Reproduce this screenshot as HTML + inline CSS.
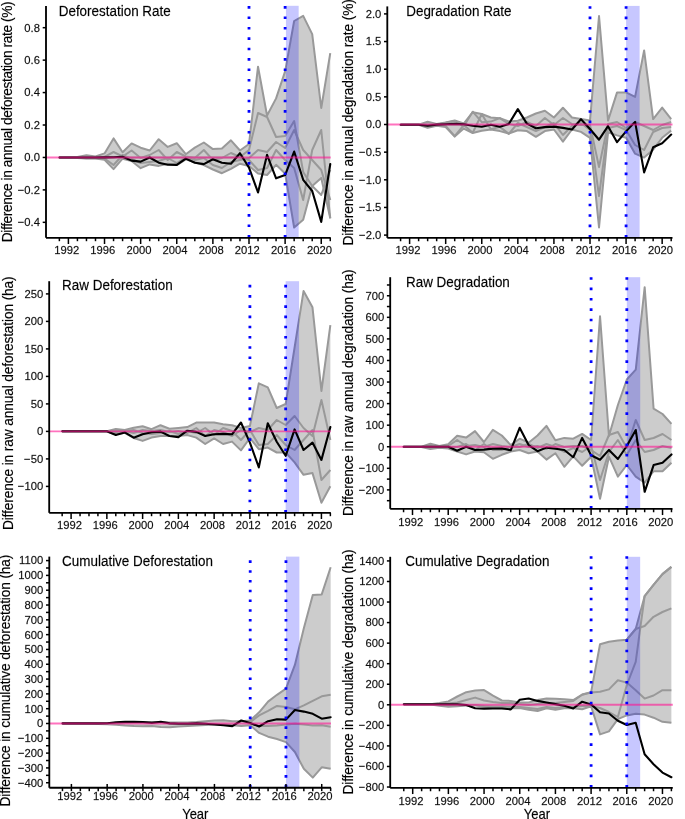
<!DOCTYPE html>
<html><head><meta charset="utf-8"><style>
html,body{margin:0;padding:0;background:#fff;width:685px;height:819px;overflow:hidden}
svg{display:block;font-family:"Liberation Sans", sans-serif;will-change:transform}
</style></head><body>
<svg width="685" height="819" viewBox="0 0 685 819" font-family='"Liberation Sans", sans-serif'>
<style>text{stroke:#000;stroke-width:0.25px;stroke-opacity:0.6}</style>
<rect width="685" height="819" fill="#fff"/>
<clipPath id="cP1"><rect x="46" y="5" width="286.7" height="232.8"/></clipPath>
<g clip-path="url(#cP1)">
<polygon points="59.37,157.5 68.4,157.3 77.43,157 86.46,155.3 95.49,156.5 104.52,153.4 113.55,138.4 122.58,152.2 131.61,143.4 140.64,147.7 149.67,150.5 158.7,139.2 167.73,146.9 176.76,143.2 185.79,154.2 194.82,147.6 203.85,142.5 212.88,149.1 221.91,148.4 230.94,140.3 239.97,150.5 249,144 258.03,66.7 267.06,115.5 276.09,98.4 285.12,71.4 294.15,21 303.18,15.9 312.21,34.1 321.24,108 330.27,53.2 330.27,218.3 321.24,178 312.21,186 303.18,219.8 294.15,227.5 285.12,173.5 276.09,164.8 267.06,175 258.03,173.5 249,166 239.97,163.7 230.94,168.8 221.91,173.2 212.88,169.5 203.85,165.1 194.82,162.2 185.79,159.3 176.76,165.1 167.73,163.7 158.7,165.9 149.67,164.4 140.64,168.2 131.61,161 122.58,158.7 113.55,169.1 104.52,159.8 95.49,158.5 86.46,158.5 77.43,158 68.4,158 59.37,157.7" fill="#cccccc" stroke="none"/>
<polyline points="59.37,157.5 68.4,157.3 77.43,157 86.46,155.3 95.49,156.5 104.52,153.4 113.55,138.4 122.58,152.2 131.61,143.4 140.64,147.7 149.67,150.5 158.7,139.2 167.73,146.9 176.76,143.2 185.79,154.2 194.82,147.6 203.85,142.5 212.88,149.1 221.91,148.4 230.94,140.3 239.97,150.5 249,144 258.03,66.7 267.06,115.5 276.09,98.4 285.12,71.4 294.15,21 303.18,15.9 312.21,34.1 321.24,108 330.27,53.2" fill="none" stroke="#999999" stroke-width="2.0" stroke-linejoin="round"/>
<polyline points="59.37,157.7 68.4,158 77.43,158 86.46,158.5 95.49,158.5 104.52,159.8 113.55,169.1 122.58,158.7 131.61,161 140.64,168.2 149.67,164.4 158.7,165.9 167.73,163.7 176.76,165.1 185.79,159.3 194.82,162.2 203.85,165.1 212.88,169.5 221.91,173.2 230.94,168.8 239.97,163.7 249,166 258.03,173.5 267.06,175 276.09,164.8 285.12,173.5 294.15,227.5 303.18,219.8 312.21,186 321.24,178 330.27,218.3" fill="none" stroke="#999999" stroke-width="2.0" stroke-linejoin="round"/>
<polyline points="59.37,157.5 68.4,157.5 77.43,157.5 86.46,157.3 95.49,157.6 104.52,156.8 113.55,152 122.58,156.5 131.61,150.5 140.64,158 149.67,155 158.7,150 167.73,160 176.76,152 185.79,156.5 194.82,158 203.85,150 212.88,160 221.91,158 230.94,153 239.97,157 249,150 258.03,113 267.06,117 276.09,137 285.12,136 294.15,121 303.18,172 312.21,186 321.24,195 330.27,170" fill="none" stroke="#999999" stroke-width="2.0" stroke-linejoin="round"/>
<polyline points="59.37,157.5 68.4,157.6 77.43,157.8 86.46,158.2 95.49,158 104.52,158.5 113.55,165 122.58,155 131.61,158.8 140.64,163 149.67,162 158.7,161 167.73,158 176.76,163 185.79,157.5 194.82,160 203.85,158 212.88,165 221.91,168 230.94,162 239.97,160 249,158 258.03,150 267.06,152 276.09,142 285.12,148 294.15,130 303.18,150 312.21,160 321.24,170 330.27,200" fill="none" stroke="#999999" stroke-width="2.0" stroke-linejoin="round"/>
<polyline points="59.37,157.6 68.4,157.6 77.43,157.6 86.46,157.6 95.49,157.6 104.52,157.6 113.55,157.6 122.58,157.6 131.61,157.6 140.64,157.6 149.67,157.6 158.7,157.6 167.73,157.6 176.76,157.6 185.79,157.6 194.82,157.6 203.85,157.6 212.88,157.6 221.91,157.6 230.94,157.6 239.97,157.6 249,160 258.03,170 267.06,168 276.09,150 285.12,160 294.15,168 303.18,200 312.21,150 321.24,130 330.27,218.3" fill="none" stroke="#999999" stroke-width="2.0" stroke-linejoin="round"/>
<rect x="285.92" y="5.8" width="12.74" height="232" fill="rgb(0,0,255)" fill-opacity="0.22"/>
<polyline points="59.37,157.5 68.4,157.5 77.43,157.5 86.46,157.5 95.49,157.5 104.52,157.4 113.55,157.3 122.58,156.8 131.61,160.6 140.64,161.6 149.67,157.5 158.7,162.7 167.73,164.7 176.76,164.9 185.79,158.6 194.82,162.7 203.85,164.1 212.88,159.3 221.91,162.7 230.94,163.7 239.97,153.2 249,167.6 258.03,192.5 267.06,154.8 276.09,178.3 285.12,175.1 294.15,151.6 303.18,179.8 312.21,191 321.24,221.9 330.27,164" fill="none" stroke="#000" stroke-width="2.1" stroke-linejoin="round" stroke-linecap="round"/>
<line x1="46" x2="330.7" y1="157.45" y2="157.45" stroke="rgb(255,20,147)" stroke-opacity="0.6" stroke-width="1.9"/>
<line x1="249" x2="249" y1="237.5" y2="5" stroke="#0000ff" stroke-width="2.8" stroke-dasharray="2.6 7.8"/>
<line x1="285.12" x2="285.12" y1="237.5" y2="5" stroke="#0000ff" stroke-width="2.8" stroke-dasharray="2.6 7.8"/>
</g>
<line x1="46" x2="46" y1="6" y2="237.8" stroke="#000" stroke-width="1.85"/>
<line x1="46" x2="330.7" y1="237.8" y2="237.8" stroke="#000" stroke-width="1.85"/>
<line x1="42.7" x2="46" y1="27.69" y2="27.69" stroke="#000" stroke-width="1.5"/>
<text transform="translate(40 31.59) scale(1 1.04)" text-anchor="end" font-size="11.25" fill="#111">0.8</text>
<line x1="42.7" x2="46" y1="60.13" y2="60.13" stroke="#000" stroke-width="1.5"/>
<text transform="translate(40 64.03) scale(1 1.04)" text-anchor="end" font-size="11.25" fill="#111">0.6</text>
<line x1="42.7" x2="46" y1="92.57" y2="92.57" stroke="#000" stroke-width="1.5"/>
<text transform="translate(40 96.47) scale(1 1.04)" text-anchor="end" font-size="11.25" fill="#111">0.4</text>
<line x1="42.7" x2="46" y1="125.01" y2="125.01" stroke="#000" stroke-width="1.5"/>
<text transform="translate(40 128.91) scale(1 1.04)" text-anchor="end" font-size="11.25" fill="#111">0.2</text>
<line x1="42.7" x2="46" y1="157.45" y2="157.45" stroke="#000" stroke-width="1.5"/>
<text transform="translate(40 161.35) scale(1 1.04)" text-anchor="end" font-size="11.25" fill="#111">0.0</text>
<line x1="42.7" x2="46" y1="189.89" y2="189.89" stroke="#000" stroke-width="1.5"/>
<text transform="translate(40 193.79) scale(1 1.04)" text-anchor="end" font-size="11.25" fill="#111">−0.2</text>
<line x1="42.7" x2="46" y1="222.33" y2="222.33" stroke="#000" stroke-width="1.5"/>
<text transform="translate(40 226.23) scale(1 1.04)" text-anchor="end" font-size="11.25" fill="#111">−0.4</text>
<line x1="59.37" x2="59.37" y1="237.8" y2="241.2" stroke="#000" stroke-width="1.5"/>
<line x1="68.4" x2="68.4" y1="237.8" y2="244" stroke="#000" stroke-width="1.5"/>
<text transform="translate(66.7 254.2) scale(1 1.04)" text-anchor="middle" font-size="11.25" fill="#111">1992</text>
<line x1="77.43" x2="77.43" y1="237.8" y2="241.2" stroke="#000" stroke-width="1.5"/>
<line x1="86.46" x2="86.46" y1="237.8" y2="241.2" stroke="#000" stroke-width="1.5"/>
<line x1="95.49" x2="95.49" y1="237.8" y2="241.2" stroke="#000" stroke-width="1.5"/>
<line x1="104.52" x2="104.52" y1="237.8" y2="244" stroke="#000" stroke-width="1.5"/>
<text transform="translate(102.82 254.2) scale(1 1.04)" text-anchor="middle" font-size="11.25" fill="#111">1996</text>
<line x1="113.55" x2="113.55" y1="237.8" y2="241.2" stroke="#000" stroke-width="1.5"/>
<line x1="122.58" x2="122.58" y1="237.8" y2="241.2" stroke="#000" stroke-width="1.5"/>
<line x1="131.61" x2="131.61" y1="237.8" y2="241.2" stroke="#000" stroke-width="1.5"/>
<line x1="140.64" x2="140.64" y1="237.8" y2="244" stroke="#000" stroke-width="1.5"/>
<text transform="translate(138.94 254.2) scale(1 1.04)" text-anchor="middle" font-size="11.25" fill="#111">2000</text>
<line x1="149.67" x2="149.67" y1="237.8" y2="241.2" stroke="#000" stroke-width="1.5"/>
<line x1="158.7" x2="158.7" y1="237.8" y2="241.2" stroke="#000" stroke-width="1.5"/>
<line x1="167.73" x2="167.73" y1="237.8" y2="241.2" stroke="#000" stroke-width="1.5"/>
<line x1="176.76" x2="176.76" y1="237.8" y2="244" stroke="#000" stroke-width="1.5"/>
<text transform="translate(175.06 254.2) scale(1 1.04)" text-anchor="middle" font-size="11.25" fill="#111">2004</text>
<line x1="185.79" x2="185.79" y1="237.8" y2="241.2" stroke="#000" stroke-width="1.5"/>
<line x1="194.82" x2="194.82" y1="237.8" y2="241.2" stroke="#000" stroke-width="1.5"/>
<line x1="203.85" x2="203.85" y1="237.8" y2="241.2" stroke="#000" stroke-width="1.5"/>
<line x1="212.88" x2="212.88" y1="237.8" y2="244" stroke="#000" stroke-width="1.5"/>
<text transform="translate(211.18 254.2) scale(1 1.04)" text-anchor="middle" font-size="11.25" fill="#111">2008</text>
<line x1="221.91" x2="221.91" y1="237.8" y2="241.2" stroke="#000" stroke-width="1.5"/>
<line x1="230.94" x2="230.94" y1="237.8" y2="241.2" stroke="#000" stroke-width="1.5"/>
<line x1="239.97" x2="239.97" y1="237.8" y2="241.2" stroke="#000" stroke-width="1.5"/>
<line x1="249" x2="249" y1="237.8" y2="244" stroke="#000" stroke-width="1.5"/>
<text transform="translate(247.3 254.2) scale(1 1.04)" text-anchor="middle" font-size="11.25" fill="#111">2012</text>
<line x1="258.03" x2="258.03" y1="237.8" y2="241.2" stroke="#000" stroke-width="1.5"/>
<line x1="267.06" x2="267.06" y1="237.8" y2="241.2" stroke="#000" stroke-width="1.5"/>
<line x1="276.09" x2="276.09" y1="237.8" y2="241.2" stroke="#000" stroke-width="1.5"/>
<line x1="285.12" x2="285.12" y1="237.8" y2="244" stroke="#000" stroke-width="1.5"/>
<text transform="translate(283.42 254.2) scale(1 1.04)" text-anchor="middle" font-size="11.25" fill="#111">2016</text>
<line x1="294.15" x2="294.15" y1="237.8" y2="241.2" stroke="#000" stroke-width="1.5"/>
<line x1="303.18" x2="303.18" y1="237.8" y2="241.2" stroke="#000" stroke-width="1.5"/>
<line x1="312.21" x2="312.21" y1="237.8" y2="241.2" stroke="#000" stroke-width="1.5"/>
<line x1="321.24" x2="321.24" y1="237.8" y2="244" stroke="#000" stroke-width="1.5"/>
<text transform="translate(319.54 254.2) scale(1 1.04)" text-anchor="middle" font-size="11.25" fill="#111">2020</text>
<line x1="330.27" x2="330.27" y1="237.8" y2="241.2" stroke="#000" stroke-width="1.5"/>
<text transform="translate(58.7 15.9) scale(1 1.1)" font-size="13.45" fill="#000">Deforestation Rate</text>
<text transform="translate(12 121.8) rotate(-90) scale(1 1.06)" text-anchor="middle" font-size="13.7" textLength="240.8" lengthAdjust="spacing" fill="#000">Difference in annual deforestation rate (%)</text>
<clipPath id="cP2"><rect x="387.3" y="5.4" width="287.2" height="232.45"/></clipPath>
<g clip-path="url(#cP2)">
<polygon points="400.58,124.6 409.6,124.6 418.62,124.6 427.64,121.7 436.66,123.9 445.68,122.4 454.7,120.5 463.72,123.5 472.74,112.2 481.76,114 490.78,117.5 499.8,118.3 508.82,121.5 517.84,120.7 526.86,117.5 535.88,113.5 544.9,110.7 553.92,117.5 562.94,107.8 571.96,117.5 580.98,119.1 590,120.6 599.02,16 608.04,120.6 617.06,92.4 626.08,92.4 635.1,96.9 644.12,50.4 653.14,119.1 662.16,107.6 671.18,119.1 671.18,130.6 662.16,137.8 653.14,149.7 644.12,157.6 635.1,153.7 626.08,137.8 617.06,135.4 608.04,132.2 599.02,227.5 590,137.8 580.98,131.9 571.96,129.5 562.94,141.6 553.92,129.5 544.9,131.1 535.88,136.8 526.86,131.1 517.84,130.3 508.82,133.5 499.8,131.1 490.78,129.5 481.76,130.8 472.74,133 463.72,128.6 454.7,136.6 445.68,127.1 436.66,125.7 427.64,127.8 418.62,124.8 409.6,124.8 400.58,124.8" fill="#cccccc" stroke="none"/>
<polyline points="400.58,124.6 409.6,124.6 418.62,124.6 427.64,121.7 436.66,123.9 445.68,122.4 454.7,120.5 463.72,123.5 472.74,112.2 481.76,114 490.78,117.5 499.8,118.3 508.82,121.5 517.84,120.7 526.86,117.5 535.88,113.5 544.9,110.7 553.92,117.5 562.94,107.8 571.96,117.5 580.98,119.1 590,120.6 599.02,16 608.04,120.6 617.06,92.4 626.08,92.4 635.1,96.9 644.12,50.4 653.14,119.1 662.16,107.6 671.18,119.1" fill="none" stroke="#999999" stroke-width="2.0" stroke-linejoin="round"/>
<polyline points="400.58,124.8 409.6,124.8 418.62,124.8 427.64,127.8 436.66,125.7 445.68,127.1 454.7,136.6 463.72,128.6 472.74,133 481.76,130.8 490.78,129.5 499.8,131.1 508.82,133.5 517.84,130.3 526.86,131.1 535.88,136.8 544.9,131.1 553.92,129.5 562.94,141.6 571.96,129.5 580.98,131.9 590,137.8 599.02,227.5 608.04,132.2 617.06,135.4 626.08,137.8 635.1,153.7 644.12,157.6 653.14,149.7 662.16,137.8 671.18,130.6" fill="none" stroke="#999999" stroke-width="2.0" stroke-linejoin="round"/>
<polyline points="400.58,124.7 409.6,124.7 418.62,124.7 427.64,124.5 436.66,124.8 445.68,122.8 454.7,121 463.72,126.3 472.74,111.7 481.76,122.2 490.78,121.6 499.8,118.1 508.82,123.9 517.84,126 526.86,122 535.88,126 544.9,118 553.92,125 562.94,118 571.96,124 580.98,125 590,125 599.02,167 608.04,124 617.06,122 626.08,128 635.1,122 644.12,126 653.14,130 662.16,125 671.18,122" fill="none" stroke="#999999" stroke-width="2.0" stroke-linejoin="round"/>
<polyline points="400.58,124.8 409.6,124.8 418.62,124.8 427.64,126 436.66,125 445.68,126 454.7,136.2 463.72,125.1 472.74,132.7 481.76,114 490.78,129.2 499.8,126.9 508.82,133.9 517.84,123 526.86,127 535.88,131 544.9,127 553.92,123 562.94,135 571.96,126 580.98,123 590,130 599.02,196 608.04,128 617.06,126 626.08,130 635.1,145 644.12,150 653.14,132 662.16,128 671.18,127" fill="none" stroke="#999999" stroke-width="2.0" stroke-linejoin="round"/>
<rect x="626.08" y="5.8" width="13.53" height="232.05" fill="rgb(0,0,255)" fill-opacity="0.22"/>
<polyline points="400.58,124.7 409.6,124.7 418.62,124.7 427.64,125.7 436.66,124.6 445.68,124.2 454.7,123.9 463.72,124.2 472.74,125.7 481.76,126.8 490.78,124.7 499.8,126.8 508.82,123.9 517.84,109.1 526.86,123.6 535.88,128.2 544.9,127.1 553.92,126.6 562.94,127.9 571.96,129.5 580.98,119.2 590,129 599.02,139.7 608.04,126.2 617.06,142.2 626.08,131.4 635.1,121.9 644.12,172.4 653.14,147.3 662.16,143.3 671.18,134.6" fill="none" stroke="#000" stroke-width="2.1" stroke-linejoin="round" stroke-linecap="round"/>
<line x1="387.3" x2="672.5" y1="124.5" y2="124.5" stroke="rgb(255,20,147)" stroke-opacity="0.6" stroke-width="1.9"/>
<line x1="590" x2="590" y1="237.55" y2="5.4" stroke="#0000ff" stroke-width="2.8" stroke-dasharray="2.6 7.8"/>
<line x1="626.08" x2="626.08" y1="237.55" y2="5.4" stroke="#0000ff" stroke-width="2.8" stroke-dasharray="2.6 7.8"/>
</g>
<line x1="387.3" x2="387.3" y1="6.4" y2="237.85" stroke="#000" stroke-width="1.85"/>
<line x1="387.3" x2="672.5" y1="237.85" y2="237.85" stroke="#000" stroke-width="1.85"/>
<line x1="384" x2="387.3" y1="13.9" y2="13.9" stroke="#000" stroke-width="1.5"/>
<text transform="translate(381.3 17.8) scale(1 1.04)" text-anchor="end" font-size="11.25" fill="#111">2.0</text>
<line x1="384" x2="387.3" y1="41.55" y2="41.55" stroke="#000" stroke-width="1.5"/>
<text transform="translate(381.3 45.45) scale(1 1.04)" text-anchor="end" font-size="11.25" fill="#111">1.5</text>
<line x1="384" x2="387.3" y1="69.2" y2="69.2" stroke="#000" stroke-width="1.5"/>
<text transform="translate(381.3 73.1) scale(1 1.04)" text-anchor="end" font-size="11.25" fill="#111">1.0</text>
<line x1="384" x2="387.3" y1="96.85" y2="96.85" stroke="#000" stroke-width="1.5"/>
<text transform="translate(381.3 100.75) scale(1 1.04)" text-anchor="end" font-size="11.25" fill="#111">0.5</text>
<line x1="384" x2="387.3" y1="124.5" y2="124.5" stroke="#000" stroke-width="1.5"/>
<text transform="translate(381.3 128.4) scale(1 1.04)" text-anchor="end" font-size="11.25" fill="#111">0.0</text>
<line x1="384" x2="387.3" y1="152.15" y2="152.15" stroke="#000" stroke-width="1.5"/>
<text transform="translate(381.3 156.05) scale(1 1.04)" text-anchor="end" font-size="11.25" fill="#111">−0.5</text>
<line x1="384" x2="387.3" y1="179.8" y2="179.8" stroke="#000" stroke-width="1.5"/>
<text transform="translate(381.3 183.7) scale(1 1.04)" text-anchor="end" font-size="11.25" fill="#111">−1.0</text>
<line x1="384" x2="387.3" y1="207.45" y2="207.45" stroke="#000" stroke-width="1.5"/>
<text transform="translate(381.3 211.35) scale(1 1.04)" text-anchor="end" font-size="11.25" fill="#111">−1.5</text>
<line x1="384" x2="387.3" y1="235.1" y2="235.1" stroke="#000" stroke-width="1.5"/>
<text transform="translate(381.3 239) scale(1 1.04)" text-anchor="end" font-size="11.25" fill="#111">−2.0</text>
<line x1="400.58" x2="400.58" y1="237.85" y2="241.25" stroke="#000" stroke-width="1.5"/>
<line x1="409.6" x2="409.6" y1="237.85" y2="244.05" stroke="#000" stroke-width="1.5"/>
<text transform="translate(407.9 254.25) scale(1 1.04)" text-anchor="middle" font-size="11.25" fill="#111">1992</text>
<line x1="418.62" x2="418.62" y1="237.85" y2="241.25" stroke="#000" stroke-width="1.5"/>
<line x1="427.64" x2="427.64" y1="237.85" y2="241.25" stroke="#000" stroke-width="1.5"/>
<line x1="436.66" x2="436.66" y1="237.85" y2="241.25" stroke="#000" stroke-width="1.5"/>
<line x1="445.68" x2="445.68" y1="237.85" y2="244.05" stroke="#000" stroke-width="1.5"/>
<text transform="translate(443.98 254.25) scale(1 1.04)" text-anchor="middle" font-size="11.25" fill="#111">1996</text>
<line x1="454.7" x2="454.7" y1="237.85" y2="241.25" stroke="#000" stroke-width="1.5"/>
<line x1="463.72" x2="463.72" y1="237.85" y2="241.25" stroke="#000" stroke-width="1.5"/>
<line x1="472.74" x2="472.74" y1="237.85" y2="241.25" stroke="#000" stroke-width="1.5"/>
<line x1="481.76" x2="481.76" y1="237.85" y2="244.05" stroke="#000" stroke-width="1.5"/>
<text transform="translate(480.06 254.25) scale(1 1.04)" text-anchor="middle" font-size="11.25" fill="#111">2000</text>
<line x1="490.78" x2="490.78" y1="237.85" y2="241.25" stroke="#000" stroke-width="1.5"/>
<line x1="499.8" x2="499.8" y1="237.85" y2="241.25" stroke="#000" stroke-width="1.5"/>
<line x1="508.82" x2="508.82" y1="237.85" y2="241.25" stroke="#000" stroke-width="1.5"/>
<line x1="517.84" x2="517.84" y1="237.85" y2="244.05" stroke="#000" stroke-width="1.5"/>
<text transform="translate(516.14 254.25) scale(1 1.04)" text-anchor="middle" font-size="11.25" fill="#111">2004</text>
<line x1="526.86" x2="526.86" y1="237.85" y2="241.25" stroke="#000" stroke-width="1.5"/>
<line x1="535.88" x2="535.88" y1="237.85" y2="241.25" stroke="#000" stroke-width="1.5"/>
<line x1="544.9" x2="544.9" y1="237.85" y2="241.25" stroke="#000" stroke-width="1.5"/>
<line x1="553.92" x2="553.92" y1="237.85" y2="244.05" stroke="#000" stroke-width="1.5"/>
<text transform="translate(552.22 254.25) scale(1 1.04)" text-anchor="middle" font-size="11.25" fill="#111">2008</text>
<line x1="562.94" x2="562.94" y1="237.85" y2="241.25" stroke="#000" stroke-width="1.5"/>
<line x1="571.96" x2="571.96" y1="237.85" y2="241.25" stroke="#000" stroke-width="1.5"/>
<line x1="580.98" x2="580.98" y1="237.85" y2="241.25" stroke="#000" stroke-width="1.5"/>
<line x1="590" x2="590" y1="237.85" y2="244.05" stroke="#000" stroke-width="1.5"/>
<text transform="translate(588.3 254.25) scale(1 1.04)" text-anchor="middle" font-size="11.25" fill="#111">2012</text>
<line x1="599.02" x2="599.02" y1="237.85" y2="241.25" stroke="#000" stroke-width="1.5"/>
<line x1="608.04" x2="608.04" y1="237.85" y2="241.25" stroke="#000" stroke-width="1.5"/>
<line x1="617.06" x2="617.06" y1="237.85" y2="241.25" stroke="#000" stroke-width="1.5"/>
<line x1="626.08" x2="626.08" y1="237.85" y2="244.05" stroke="#000" stroke-width="1.5"/>
<text transform="translate(624.38 254.25) scale(1 1.04)" text-anchor="middle" font-size="11.25" fill="#111">2016</text>
<line x1="635.1" x2="635.1" y1="237.85" y2="241.25" stroke="#000" stroke-width="1.5"/>
<line x1="644.12" x2="644.12" y1="237.85" y2="241.25" stroke="#000" stroke-width="1.5"/>
<line x1="653.14" x2="653.14" y1="237.85" y2="241.25" stroke="#000" stroke-width="1.5"/>
<line x1="662.16" x2="662.16" y1="237.85" y2="244.05" stroke="#000" stroke-width="1.5"/>
<text transform="translate(660.46 254.25) scale(1 1.04)" text-anchor="middle" font-size="11.25" fill="#111">2020</text>
<line x1="671.18" x2="671.18" y1="237.85" y2="241.25" stroke="#000" stroke-width="1.5"/>
<text transform="translate(406.2 15.8) scale(1 1.1)" font-size="13.45" fill="#000">Degradation Rate</text>
<text transform="translate(352.9 122.4) rotate(-90) scale(1 1.06)" text-anchor="middle" font-size="13.7" textLength="246.4" lengthAdjust="spacing" fill="#000">Difference in annual degradation rate (%)</text>
<clipPath id="cP3"><rect x="49.2" y="280.2" width="283.6" height="232.6"/></clipPath>
<g clip-path="url(#cP3)">
<polygon points="62.16,431.1 71.1,431.1 80.04,431.1 88.98,431.1 97.92,431.1 106.86,431.1 115.8,428.9 124.74,429.9 133.68,427.7 142.62,426.3 151.56,429.2 160.5,425.2 169.44,428.7 178.38,427.9 187.32,427.1 196.26,422.6 205.2,422.6 214.14,422.6 223.08,424.2 232.02,425.2 240.96,427.9 249.9,426 258.84,383.3 267.78,387.4 276.72,408 285.66,404 294.6,347.5 303.54,291.1 312.48,307.3 321.42,391 330.36,325.2 330.36,486.3 321.42,502.8 312.48,473.1 303.54,474.8 294.6,462.4 285.66,452.5 276.72,452.5 267.78,447.6 258.84,449.2 249.9,438 240.96,450.4 232.02,441.6 223.08,444 214.14,438.4 205.2,444 196.26,437.6 187.32,435.1 178.38,436 169.44,436 160.5,436 151.56,437.6 142.62,440.9 133.68,438 124.74,432.8 115.8,434.3 106.86,431.5 97.92,431.5 88.98,431.5 80.04,431.5 71.1,431.5 62.16,431.5" fill="#cccccc" stroke="none"/>
<polyline points="62.16,431.1 71.1,431.1 80.04,431.1 88.98,431.1 97.92,431.1 106.86,431.1 115.8,428.9 124.74,429.9 133.68,427.7 142.62,426.3 151.56,429.2 160.5,425.2 169.44,428.7 178.38,427.9 187.32,427.1 196.26,422.6 205.2,422.6 214.14,422.6 223.08,424.2 232.02,425.2 240.96,427.9 249.9,426 258.84,383.3 267.78,387.4 276.72,408 285.66,404 294.6,347.5 303.54,291.1 312.48,307.3 321.42,391 330.36,325.2" fill="none" stroke="#999999" stroke-width="2.0" stroke-linejoin="round"/>
<polyline points="62.16,431.5 71.1,431.5 80.04,431.5 88.98,431.5 97.92,431.5 106.86,431.5 115.8,434.3 124.74,432.8 133.68,438 142.62,440.9 151.56,437.6 160.5,436 169.44,436 178.38,436 187.32,435.1 196.26,437.6 205.2,444 214.14,438.4 223.08,444 232.02,441.6 240.96,450.4 249.9,438 258.84,449.2 267.78,447.6 276.72,452.5 285.66,452.5 294.6,462.4 303.54,474.8 312.48,473.1 321.42,502.8 330.36,486.3" fill="none" stroke="#999999" stroke-width="2.0" stroke-linejoin="round"/>
<polyline points="62.16,431.3 71.1,431.3 80.04,431.3 88.98,431.3 97.92,431.3 106.86,431.3 115.8,431 124.74,431 133.68,433 142.62,430 151.56,431 160.5,430 169.44,432 178.38,431 187.32,433 196.26,428 205.2,436 214.14,430 223.08,432 232.02,436 240.96,430 249.9,432 258.84,428 267.78,430 276.72,420 285.66,425 294.6,416 303.54,428 312.48,436 321.42,400 330.36,440" fill="none" stroke="#999999" stroke-width="2.0" stroke-linejoin="round"/>
<polyline points="62.16,431.4 71.1,431.4 80.04,431.4 88.98,431.4 97.92,431.4 106.86,431.4 115.8,432 124.74,431 133.68,430 142.62,433 151.56,434 160.5,433 169.44,431 178.38,434 187.32,431 196.26,433 205.2,428 214.14,435 223.08,428 232.02,431 240.96,440 249.9,430 258.84,445 267.78,444 276.72,435 285.66,445 294.6,450 303.54,440 312.48,430 321.42,480 330.36,470" fill="none" stroke="#999999" stroke-width="2.0" stroke-linejoin="round"/>
<rect x="285.66" y="281.2" width="13.41" height="231.6" fill="rgb(0,0,255)" fill-opacity="0.22"/>
<polyline points="62.16,431.2 71.1,431.2 80.04,431.2 88.98,431.2 97.92,431.2 106.86,431.2 115.8,435 124.74,432.4 133.68,437.7 142.62,434.3 151.56,432.3 160.5,431.6 169.44,436 178.38,437.1 187.32,430.7 196.26,431.9 205.2,436 214.14,434.3 223.08,433.9 232.02,434.3 240.96,422.5 249.9,442.6 258.84,467.4 267.78,423.2 276.72,441.8 285.66,455.8 294.6,429.4 303.54,450 312.48,442.6 321.42,459.9 330.36,427" fill="none" stroke="#000" stroke-width="2.1" stroke-linejoin="round" stroke-linecap="round"/>
<line x1="49.2" x2="330.8" y1="431.4" y2="431.4" stroke="rgb(255,20,147)" stroke-opacity="0.6" stroke-width="1.9"/>
<line x1="249.9" x2="249.9" y1="512.5" y2="280.2" stroke="#0000ff" stroke-width="2.8" stroke-dasharray="2.6 7.63"/>
<line x1="285.66" x2="285.66" y1="512.5" y2="280.2" stroke="#0000ff" stroke-width="2.8" stroke-dasharray="2.6 7.63"/>
</g>
<line x1="49.2" x2="49.2" y1="281.2" y2="512.8" stroke="#000" stroke-width="1.85"/>
<line x1="49.2" x2="330.8" y1="512.8" y2="512.8" stroke="#000" stroke-width="1.85"/>
<line x1="45.9" x2="49.2" y1="293.9" y2="293.9" stroke="#000" stroke-width="1.5"/>
<text transform="translate(43.2 297.8) scale(1 1.04)" text-anchor="end" font-size="11.25" fill="#111">250</text>
<line x1="45.9" x2="49.2" y1="321.4" y2="321.4" stroke="#000" stroke-width="1.5"/>
<text transform="translate(43.2 325.3) scale(1 1.04)" text-anchor="end" font-size="11.25" fill="#111">200</text>
<line x1="45.9" x2="49.2" y1="348.9" y2="348.9" stroke="#000" stroke-width="1.5"/>
<text transform="translate(43.2 352.8) scale(1 1.04)" text-anchor="end" font-size="11.25" fill="#111">150</text>
<line x1="45.9" x2="49.2" y1="376.4" y2="376.4" stroke="#000" stroke-width="1.5"/>
<text transform="translate(43.2 380.3) scale(1 1.04)" text-anchor="end" font-size="11.25" fill="#111">100</text>
<line x1="45.9" x2="49.2" y1="403.9" y2="403.9" stroke="#000" stroke-width="1.5"/>
<text transform="translate(43.2 407.8) scale(1 1.04)" text-anchor="end" font-size="11.25" fill="#111">50</text>
<line x1="45.9" x2="49.2" y1="431.4" y2="431.4" stroke="#000" stroke-width="1.5"/>
<text transform="translate(43.2 435.3) scale(1 1.04)" text-anchor="end" font-size="11.25" fill="#111">0</text>
<line x1="45.9" x2="49.2" y1="458.9" y2="458.9" stroke="#000" stroke-width="1.5"/>
<text transform="translate(43.2 462.8) scale(1 1.04)" text-anchor="end" font-size="11.25" fill="#111">−50</text>
<line x1="45.9" x2="49.2" y1="486.4" y2="486.4" stroke="#000" stroke-width="1.5"/>
<text transform="translate(43.2 490.3) scale(1 1.04)" text-anchor="end" font-size="11.25" fill="#111">−100</text>
<line x1="62.16" x2="62.16" y1="512.8" y2="516.2" stroke="#000" stroke-width="1.5"/>
<line x1="71.1" x2="71.1" y1="512.8" y2="519" stroke="#000" stroke-width="1.5"/>
<text transform="translate(69.4 529.2) scale(1 1.04)" text-anchor="middle" font-size="11.25" fill="#111">1992</text>
<line x1="80.04" x2="80.04" y1="512.8" y2="516.2" stroke="#000" stroke-width="1.5"/>
<line x1="88.98" x2="88.98" y1="512.8" y2="516.2" stroke="#000" stroke-width="1.5"/>
<line x1="97.92" x2="97.92" y1="512.8" y2="516.2" stroke="#000" stroke-width="1.5"/>
<line x1="106.86" x2="106.86" y1="512.8" y2="519" stroke="#000" stroke-width="1.5"/>
<text transform="translate(105.16 529.2) scale(1 1.04)" text-anchor="middle" font-size="11.25" fill="#111">1996</text>
<line x1="115.8" x2="115.8" y1="512.8" y2="516.2" stroke="#000" stroke-width="1.5"/>
<line x1="124.74" x2="124.74" y1="512.8" y2="516.2" stroke="#000" stroke-width="1.5"/>
<line x1="133.68" x2="133.68" y1="512.8" y2="516.2" stroke="#000" stroke-width="1.5"/>
<line x1="142.62" x2="142.62" y1="512.8" y2="519" stroke="#000" stroke-width="1.5"/>
<text transform="translate(140.92 529.2) scale(1 1.04)" text-anchor="middle" font-size="11.25" fill="#111">2000</text>
<line x1="151.56" x2="151.56" y1="512.8" y2="516.2" stroke="#000" stroke-width="1.5"/>
<line x1="160.5" x2="160.5" y1="512.8" y2="516.2" stroke="#000" stroke-width="1.5"/>
<line x1="169.44" x2="169.44" y1="512.8" y2="516.2" stroke="#000" stroke-width="1.5"/>
<line x1="178.38" x2="178.38" y1="512.8" y2="519" stroke="#000" stroke-width="1.5"/>
<text transform="translate(176.68 529.2) scale(1 1.04)" text-anchor="middle" font-size="11.25" fill="#111">2004</text>
<line x1="187.32" x2="187.32" y1="512.8" y2="516.2" stroke="#000" stroke-width="1.5"/>
<line x1="196.26" x2="196.26" y1="512.8" y2="516.2" stroke="#000" stroke-width="1.5"/>
<line x1="205.2" x2="205.2" y1="512.8" y2="516.2" stroke="#000" stroke-width="1.5"/>
<line x1="214.14" x2="214.14" y1="512.8" y2="519" stroke="#000" stroke-width="1.5"/>
<text transform="translate(212.44 529.2) scale(1 1.04)" text-anchor="middle" font-size="11.25" fill="#111">2008</text>
<line x1="223.08" x2="223.08" y1="512.8" y2="516.2" stroke="#000" stroke-width="1.5"/>
<line x1="232.02" x2="232.02" y1="512.8" y2="516.2" stroke="#000" stroke-width="1.5"/>
<line x1="240.96" x2="240.96" y1="512.8" y2="516.2" stroke="#000" stroke-width="1.5"/>
<line x1="249.9" x2="249.9" y1="512.8" y2="519" stroke="#000" stroke-width="1.5"/>
<text transform="translate(248.2 529.2) scale(1 1.04)" text-anchor="middle" font-size="11.25" fill="#111">2012</text>
<line x1="258.84" x2="258.84" y1="512.8" y2="516.2" stroke="#000" stroke-width="1.5"/>
<line x1="267.78" x2="267.78" y1="512.8" y2="516.2" stroke="#000" stroke-width="1.5"/>
<line x1="276.72" x2="276.72" y1="512.8" y2="516.2" stroke="#000" stroke-width="1.5"/>
<line x1="285.66" x2="285.66" y1="512.8" y2="519" stroke="#000" stroke-width="1.5"/>
<text transform="translate(283.96 529.2) scale(1 1.04)" text-anchor="middle" font-size="11.25" fill="#111">2016</text>
<line x1="294.6" x2="294.6" y1="512.8" y2="516.2" stroke="#000" stroke-width="1.5"/>
<line x1="303.54" x2="303.54" y1="512.8" y2="516.2" stroke="#000" stroke-width="1.5"/>
<line x1="312.48" x2="312.48" y1="512.8" y2="516.2" stroke="#000" stroke-width="1.5"/>
<line x1="321.42" x2="321.42" y1="512.8" y2="519" stroke="#000" stroke-width="1.5"/>
<text transform="translate(319.72 529.2) scale(1 1.04)" text-anchor="middle" font-size="11.25" fill="#111">2020</text>
<line x1="330.36" x2="330.36" y1="512.8" y2="516.2" stroke="#000" stroke-width="1.5"/>
<text transform="translate(62.1 289.7) scale(1 1.1)" font-size="13.45" fill="#000">Raw Deforestation</text>
<text transform="translate(12.5 403.2) rotate(-90) scale(1 1.06)" text-anchor="middle" font-size="13.7" textLength="253.8" lengthAdjust="spacing" fill="#000">Difference in raw annual deforestation (ha)</text>
<clipPath id="cP4"><rect x="390.2" y="276.2" width="284.3" height="232.65"/></clipPath>
<g clip-path="url(#cP4)">
<polygon points="403.57,446.7 412.5,446.7 421.43,446.7 430.36,443.8 439.29,446 448.22,444.2 457.15,435.7 466.08,437.6 475.01,431.1 483.94,442 492.87,429.9 501.8,435.5 510.73,445.1 519.66,438.7 528.59,442.7 537.52,435.5 546.45,425.9 555.38,440.3 564.31,437.9 573.24,438.7 582.17,433.9 591.1,440 600.03,316.2 608.96,436 617.89,405 626.82,379.5 635.75,369.6 644.68,287.2 653.61,408.7 662.54,414 671.47,423.9 671.47,462.8 662.54,471.2 653.61,471.2 644.68,482.7 635.75,476.6 626.82,465 617.89,476.6 608.96,456.7 600.03,498.7 591.1,456.7 582.17,465.7 573.24,456.4 564.31,466.8 555.38,453.2 546.45,459.6 537.52,451.6 528.59,453.2 519.66,450 510.73,451.6 501.8,454.8 492.87,458.8 483.94,452.2 475.01,451.5 466.08,454.4 457.15,451.5 448.22,448.6 439.29,447.8 430.36,448.9 421.43,447 412.5,447 403.57,447" fill="#cccccc" stroke="none"/>
<polyline points="403.57,446.7 412.5,446.7 421.43,446.7 430.36,443.8 439.29,446 448.22,444.2 457.15,435.7 466.08,437.6 475.01,431.1 483.94,442 492.87,429.9 501.8,435.5 510.73,445.1 519.66,438.7 528.59,442.7 537.52,435.5 546.45,425.9 555.38,440.3 564.31,437.9 573.24,438.7 582.17,433.9 591.1,440 600.03,316.2 608.96,436 617.89,405 626.82,379.5 635.75,369.6 644.68,287.2 653.61,408.7 662.54,414 671.47,423.9" fill="none" stroke="#999999" stroke-width="2.0" stroke-linejoin="round"/>
<polyline points="403.57,447 412.5,447 421.43,447 430.36,448.9 439.29,447.8 448.22,448.6 457.15,451.5 466.08,454.4 475.01,451.5 483.94,452.2 492.87,458.8 501.8,454.8 510.73,451.6 519.66,450 528.59,453.2 537.52,451.6 546.45,459.6 555.38,453.2 564.31,466.8 573.24,456.4 582.17,465.7 591.1,456.7 600.03,498.7 608.96,456.7 617.89,476.6 626.82,465 635.75,476.6 644.68,482.7 653.61,471.2 662.54,471.2 671.47,462.8" fill="none" stroke="#999999" stroke-width="2.0" stroke-linejoin="round"/>
<polyline points="403.57,446.8 412.5,446.8 421.43,446.8 430.36,446 439.29,447 448.22,446 457.15,440 466.08,446 475.01,445 483.94,447 492.87,444 501.8,446 510.73,447 519.66,444 528.59,447 537.52,446 546.45,449 555.38,444 564.31,447 573.24,446 582.17,446 591.1,450 600.03,456 608.96,435 617.89,432 626.82,448 635.75,420 644.68,440 653.61,438 662.54,434 671.47,440" fill="none" stroke="#999999" stroke-width="2.0" stroke-linejoin="round"/>
<polyline points="403.57,446.9 412.5,446.9 421.43,446.9 430.36,447 439.29,446.5 448.22,447 457.15,447 466.08,444 475.01,450 483.94,444 492.87,450 501.8,450 510.73,447 519.66,447 528.59,444 537.52,448 546.45,444 555.38,447 564.31,452 573.24,448 582.17,452 591.1,446 600.03,480 608.96,452 617.89,440 626.82,455 635.75,440 644.68,452 653.61,450 662.54,446 671.47,448" fill="none" stroke="#999999" stroke-width="2.0" stroke-linejoin="round"/>
<rect x="626.82" y="277.2" width="13.4" height="231.65" fill="rgb(0,0,255)" fill-opacity="0.22"/>
<polyline points="403.57,446.8 412.5,446.8 421.43,446.8 430.36,446.8 439.29,446.8 448.22,446.8 457.15,450.8 466.08,446.8 475.01,450 483.94,449.6 492.87,448.6 501.8,448.4 510.73,450.3 519.66,427.8 528.59,445.1 537.52,451.2 546.45,447.6 555.38,448.7 564.31,450 573.24,457.2 582.17,437.9 591.1,455.2 600.03,459.8 608.96,449.9 617.89,459 626.82,446 635.75,430 644.68,491.8 653.61,465.1 662.54,462.8 671.47,454.4" fill="none" stroke="#000" stroke-width="2.1" stroke-linejoin="round" stroke-linecap="round"/>
<line x1="390.2" x2="672.5" y1="446.75" y2="446.75" stroke="rgb(255,20,147)" stroke-opacity="0.6" stroke-width="1.9"/>
<line x1="591.1" x2="591.1" y1="508.55" y2="276.2" stroke="#0000ff" stroke-width="2.8" stroke-dasharray="2.6 7.8"/>
<line x1="626.82" x2="626.82" y1="508.55" y2="276.2" stroke="#0000ff" stroke-width="2.8" stroke-dasharray="2.6 7.8"/>
</g>
<line x1="390.2" x2="390.2" y1="277.2" y2="508.85" stroke="#000" stroke-width="1.85"/>
<line x1="390.2" x2="672.5" y1="508.85" y2="508.85" stroke="#000" stroke-width="1.85"/>
<line x1="386.9" x2="390.2" y1="295.76" y2="295.76" stroke="#000" stroke-width="1.5"/>
<text transform="translate(384.2 299.66) scale(1 1.04)" text-anchor="end" font-size="11.25" fill="#111">700</text>
<line x1="386.9" x2="390.2" y1="317.33" y2="317.33" stroke="#000" stroke-width="1.5"/>
<text transform="translate(384.2 321.23) scale(1 1.04)" text-anchor="end" font-size="11.25" fill="#111">600</text>
<line x1="386.9" x2="390.2" y1="338.9" y2="338.9" stroke="#000" stroke-width="1.5"/>
<text transform="translate(384.2 342.8) scale(1 1.04)" text-anchor="end" font-size="11.25" fill="#111">500</text>
<line x1="386.9" x2="390.2" y1="360.47" y2="360.47" stroke="#000" stroke-width="1.5"/>
<text transform="translate(384.2 364.37) scale(1 1.04)" text-anchor="end" font-size="11.25" fill="#111">400</text>
<line x1="386.9" x2="390.2" y1="382.04" y2="382.04" stroke="#000" stroke-width="1.5"/>
<text transform="translate(384.2 385.94) scale(1 1.04)" text-anchor="end" font-size="11.25" fill="#111">300</text>
<line x1="386.9" x2="390.2" y1="403.61" y2="403.61" stroke="#000" stroke-width="1.5"/>
<text transform="translate(384.2 407.51) scale(1 1.04)" text-anchor="end" font-size="11.25" fill="#111">200</text>
<line x1="386.9" x2="390.2" y1="425.18" y2="425.18" stroke="#000" stroke-width="1.5"/>
<text transform="translate(384.2 429.08) scale(1 1.04)" text-anchor="end" font-size="11.25" fill="#111">100</text>
<line x1="386.9" x2="390.2" y1="446.75" y2="446.75" stroke="#000" stroke-width="1.5"/>
<text transform="translate(384.2 450.65) scale(1 1.04)" text-anchor="end" font-size="11.25" fill="#111">0</text>
<line x1="386.9" x2="390.2" y1="468.32" y2="468.32" stroke="#000" stroke-width="1.5"/>
<text transform="translate(384.2 472.22) scale(1 1.04)" text-anchor="end" font-size="11.25" fill="#111">−100</text>
<line x1="386.9" x2="390.2" y1="489.89" y2="489.89" stroke="#000" stroke-width="1.5"/>
<text transform="translate(384.2 493.79) scale(1 1.04)" text-anchor="end" font-size="11.25" fill="#111">−200</text>
<line x1="386.9" x2="390.2" y1="284.98" y2="284.98" stroke="#000" stroke-width="1.5"/>
<line x1="386.9" x2="390.2" y1="306.54" y2="306.54" stroke="#000" stroke-width="1.5"/>
<line x1="386.9" x2="390.2" y1="328.12" y2="328.12" stroke="#000" stroke-width="1.5"/>
<line x1="386.9" x2="390.2" y1="349.69" y2="349.69" stroke="#000" stroke-width="1.5"/>
<line x1="386.9" x2="390.2" y1="371.25" y2="371.25" stroke="#000" stroke-width="1.5"/>
<line x1="386.9" x2="390.2" y1="392.82" y2="392.82" stroke="#000" stroke-width="1.5"/>
<line x1="386.9" x2="390.2" y1="414.39" y2="414.39" stroke="#000" stroke-width="1.5"/>
<line x1="386.9" x2="390.2" y1="435.96" y2="435.96" stroke="#000" stroke-width="1.5"/>
<line x1="386.9" x2="390.2" y1="457.54" y2="457.54" stroke="#000" stroke-width="1.5"/>
<line x1="386.9" x2="390.2" y1="479.11" y2="479.11" stroke="#000" stroke-width="1.5"/>
<line x1="386.9" x2="390.2" y1="500.68" y2="500.68" stroke="#000" stroke-width="1.5"/>
<line x1="403.57" x2="403.57" y1="508.85" y2="512.25" stroke="#000" stroke-width="1.5"/>
<line x1="412.5" x2="412.5" y1="508.85" y2="515.05" stroke="#000" stroke-width="1.5"/>
<text transform="translate(410.8 525.55) scale(1 1.04)" text-anchor="middle" font-size="11.25" fill="#111">1992</text>
<line x1="421.43" x2="421.43" y1="508.85" y2="512.25" stroke="#000" stroke-width="1.5"/>
<line x1="430.36" x2="430.36" y1="508.85" y2="512.25" stroke="#000" stroke-width="1.5"/>
<line x1="439.29" x2="439.29" y1="508.85" y2="512.25" stroke="#000" stroke-width="1.5"/>
<line x1="448.22" x2="448.22" y1="508.85" y2="515.05" stroke="#000" stroke-width="1.5"/>
<text transform="translate(446.52 525.55) scale(1 1.04)" text-anchor="middle" font-size="11.25" fill="#111">1996</text>
<line x1="457.15" x2="457.15" y1="508.85" y2="512.25" stroke="#000" stroke-width="1.5"/>
<line x1="466.08" x2="466.08" y1="508.85" y2="512.25" stroke="#000" stroke-width="1.5"/>
<line x1="475.01" x2="475.01" y1="508.85" y2="512.25" stroke="#000" stroke-width="1.5"/>
<line x1="483.94" x2="483.94" y1="508.85" y2="515.05" stroke="#000" stroke-width="1.5"/>
<text transform="translate(482.24 525.55) scale(1 1.04)" text-anchor="middle" font-size="11.25" fill="#111">2000</text>
<line x1="492.87" x2="492.87" y1="508.85" y2="512.25" stroke="#000" stroke-width="1.5"/>
<line x1="501.8" x2="501.8" y1="508.85" y2="512.25" stroke="#000" stroke-width="1.5"/>
<line x1="510.73" x2="510.73" y1="508.85" y2="512.25" stroke="#000" stroke-width="1.5"/>
<line x1="519.66" x2="519.66" y1="508.85" y2="515.05" stroke="#000" stroke-width="1.5"/>
<text transform="translate(517.96 525.55) scale(1 1.04)" text-anchor="middle" font-size="11.25" fill="#111">2004</text>
<line x1="528.59" x2="528.59" y1="508.85" y2="512.25" stroke="#000" stroke-width="1.5"/>
<line x1="537.52" x2="537.52" y1="508.85" y2="512.25" stroke="#000" stroke-width="1.5"/>
<line x1="546.45" x2="546.45" y1="508.85" y2="512.25" stroke="#000" stroke-width="1.5"/>
<line x1="555.38" x2="555.38" y1="508.85" y2="515.05" stroke="#000" stroke-width="1.5"/>
<text transform="translate(553.68 525.55) scale(1 1.04)" text-anchor="middle" font-size="11.25" fill="#111">2008</text>
<line x1="564.31" x2="564.31" y1="508.85" y2="512.25" stroke="#000" stroke-width="1.5"/>
<line x1="573.24" x2="573.24" y1="508.85" y2="512.25" stroke="#000" stroke-width="1.5"/>
<line x1="582.17" x2="582.17" y1="508.85" y2="512.25" stroke="#000" stroke-width="1.5"/>
<line x1="591.1" x2="591.1" y1="508.85" y2="515.05" stroke="#000" stroke-width="1.5"/>
<text transform="translate(589.4 525.55) scale(1 1.04)" text-anchor="middle" font-size="11.25" fill="#111">2012</text>
<line x1="600.03" x2="600.03" y1="508.85" y2="512.25" stroke="#000" stroke-width="1.5"/>
<line x1="608.96" x2="608.96" y1="508.85" y2="512.25" stroke="#000" stroke-width="1.5"/>
<line x1="617.89" x2="617.89" y1="508.85" y2="512.25" stroke="#000" stroke-width="1.5"/>
<line x1="626.82" x2="626.82" y1="508.85" y2="515.05" stroke="#000" stroke-width="1.5"/>
<text transform="translate(625.12 525.55) scale(1 1.04)" text-anchor="middle" font-size="11.25" fill="#111">2016</text>
<line x1="635.75" x2="635.75" y1="508.85" y2="512.25" stroke="#000" stroke-width="1.5"/>
<line x1="644.68" x2="644.68" y1="508.85" y2="512.25" stroke="#000" stroke-width="1.5"/>
<line x1="653.61" x2="653.61" y1="508.85" y2="512.25" stroke="#000" stroke-width="1.5"/>
<line x1="662.54" x2="662.54" y1="508.85" y2="515.05" stroke="#000" stroke-width="1.5"/>
<text transform="translate(660.84 525.55) scale(1 1.04)" text-anchor="middle" font-size="11.25" fill="#111">2020</text>
<line x1="671.47" x2="671.47" y1="508.85" y2="512.25" stroke="#000" stroke-width="1.5"/>
<text transform="translate(406 286.8) scale(1 1.1)" font-size="13.45" fill="#000">Raw Degradation</text>
<text transform="translate(353.3 392.7) rotate(-90) scale(1 1.06)" text-anchor="middle" font-size="13.7" textLength="246.8" lengthAdjust="spacing" fill="#000">Difference in raw annual degradation (ha)</text>
<clipPath id="cP5"><rect x="49.3" y="555.6" width="283.7" height="232.15"/></clipPath>
<g clip-path="url(#cP5)">
<polygon points="62.46,723.5 71.4,723.5 80.34,723.5 89.28,723.5 98.22,723.5 107.16,723.5 116.1,722.8 125.04,722.5 133.98,722.3 142.92,722.2 151.86,722.1 160.8,722.1 169.74,722.5 178.68,722.5 187.62,722.5 196.56,722.1 205.5,721.3 214.44,720.5 223.38,720.2 232.32,721.3 241.26,721.3 250.2,720.5 259.14,712.3 268.08,701.6 277.02,694.8 285.96,688.7 294.9,664.9 303.84,628.3 312.78,595 321.72,594.4 330.66,567.2 330.66,768.8 321.72,767.3 312.78,777.6 303.84,768.8 294.9,752 285.96,742.1 277.02,739 268.08,736.7 259.14,732.9 250.2,725.3 241.26,726.1 232.32,725.3 223.38,724.5 214.44,724.5 205.5,725 196.56,725.5 187.62,726.1 178.68,726.6 169.74,727.2 160.8,726.9 151.86,726.1 142.92,726.3 133.98,726 125.04,725.5 116.1,724.8 107.16,724.2 98.22,723.9 89.28,723.8 80.34,723.7 71.4,723.7 62.46,723.7" fill="#cccccc" stroke="none"/>
<polyline points="62.46,723.5 71.4,723.5 80.34,723.5 89.28,723.5 98.22,723.5 107.16,723.5 116.1,722.8 125.04,722.5 133.98,722.3 142.92,722.2 151.86,722.1 160.8,722.1 169.74,722.5 178.68,722.5 187.62,722.5 196.56,722.1 205.5,721.3 214.44,720.5 223.38,720.2 232.32,721.3 241.26,721.3 250.2,720.5 259.14,712.3 268.08,701.6 277.02,694.8 285.96,688.7 294.9,664.9 303.84,628.3 312.78,595 321.72,594.4 330.66,567.2" fill="none" stroke="#999999" stroke-width="2.0" stroke-linejoin="round"/>
<polyline points="62.46,723.7 71.4,723.7 80.34,723.7 89.28,723.8 98.22,723.9 107.16,724.2 116.1,724.8 125.04,725.5 133.98,726 142.92,726.3 151.86,726.1 160.8,726.9 169.74,727.2 178.68,726.6 187.62,726.1 196.56,725.5 205.5,725 214.44,724.5 223.38,724.5 232.32,725.3 241.26,726.1 250.2,725.3 259.14,732.9 268.08,736.7 277.02,739 285.96,742.1 294.9,752 303.84,768.8 312.78,777.6 321.72,767.3 330.66,768.8" fill="none" stroke="#999999" stroke-width="2.0" stroke-linejoin="round"/>
<polyline points="250.2,722.2 259.14,715.4 268.08,710.8 277.02,705.9 285.96,707 294.9,709.3 303.84,705.4 312.78,700.9 321.72,696.3 330.66,694.8" fill="none" stroke="#999999" stroke-width="2.0" stroke-linejoin="round"/>
<polyline points="250.2,723.6 259.14,726 268.08,726 277.02,725.5 285.96,724.5 294.9,723.8 303.84,724.5 312.78,725.5 321.72,725.2 330.66,726.8" fill="none" stroke="#999999" stroke-width="2.0" stroke-linejoin="round"/>
<rect x="285.96" y="556.6" width="13.41" height="231.15" fill="rgb(0,0,255)" fill-opacity="0.22"/>
<polyline points="62.46,723.4 71.4,723.4 80.34,723.4 89.28,723.4 98.22,723.4 107.16,723.3 116.1,722.2 125.04,721.9 133.98,721.9 142.92,722 151.86,722.9 160.8,721.8 169.74,723.4 178.68,723.7 187.62,723.7 196.56,723.4 205.5,723.7 214.44,724.5 223.38,725.3 232.32,726.1 241.26,720.5 250.2,723 259.14,726.5 268.08,721.2 277.02,719.2 285.96,719.6 294.9,710 303.84,711.6 312.78,713.8 321.72,718.7 330.66,717.2" fill="none" stroke="#000" stroke-width="2.1" stroke-linejoin="round" stroke-linecap="round"/>
<line x1="49.3" x2="331" y1="723.5" y2="723.5" stroke="rgb(255,20,147)" stroke-opacity="0.6" stroke-width="1.9"/>
<line x1="250.2" x2="250.2" y1="787.45" y2="555.6" stroke="#0000ff" stroke-width="2.8" stroke-dasharray="2.6 7.16"/>
<line x1="285.96" x2="285.96" y1="787.45" y2="555.6" stroke="#0000ff" stroke-width="2.8" stroke-dasharray="2.6 7.16"/>
</g>
<line x1="49.3" x2="49.3" y1="556.6" y2="787.75" stroke="#000" stroke-width="1.85"/>
<line x1="49.3" x2="331" y1="787.75" y2="787.75" stroke="#000" stroke-width="1.85"/>
<line x1="46" x2="49.3" y1="560.59" y2="560.59" stroke="#000" stroke-width="1.5"/>
<text transform="translate(43.3 564.49) scale(1 1.04)" text-anchor="end" font-size="11.25" fill="#111">1100</text>
<line x1="46" x2="49.3" y1="575.4" y2="575.4" stroke="#000" stroke-width="1.5"/>
<text transform="translate(43.3 579.3) scale(1 1.04)" text-anchor="end" font-size="11.25" fill="#111">1000</text>
<line x1="46" x2="49.3" y1="590.21" y2="590.21" stroke="#000" stroke-width="1.5"/>
<text transform="translate(43.3 594.11) scale(1 1.04)" text-anchor="end" font-size="11.25" fill="#111">900</text>
<line x1="46" x2="49.3" y1="605.02" y2="605.02" stroke="#000" stroke-width="1.5"/>
<text transform="translate(43.3 608.92) scale(1 1.04)" text-anchor="end" font-size="11.25" fill="#111">800</text>
<line x1="46" x2="49.3" y1="619.83" y2="619.83" stroke="#000" stroke-width="1.5"/>
<text transform="translate(43.3 623.73) scale(1 1.04)" text-anchor="end" font-size="11.25" fill="#111">700</text>
<line x1="46" x2="49.3" y1="634.64" y2="634.64" stroke="#000" stroke-width="1.5"/>
<text transform="translate(43.3 638.54) scale(1 1.04)" text-anchor="end" font-size="11.25" fill="#111">600</text>
<line x1="46" x2="49.3" y1="649.45" y2="649.45" stroke="#000" stroke-width="1.5"/>
<text transform="translate(43.3 653.35) scale(1 1.04)" text-anchor="end" font-size="11.25" fill="#111">500</text>
<line x1="46" x2="49.3" y1="664.26" y2="664.26" stroke="#000" stroke-width="1.5"/>
<text transform="translate(43.3 668.16) scale(1 1.04)" text-anchor="end" font-size="11.25" fill="#111">400</text>
<line x1="46" x2="49.3" y1="679.07" y2="679.07" stroke="#000" stroke-width="1.5"/>
<text transform="translate(43.3 682.97) scale(1 1.04)" text-anchor="end" font-size="11.25" fill="#111">300</text>
<line x1="46" x2="49.3" y1="693.88" y2="693.88" stroke="#000" stroke-width="1.5"/>
<text transform="translate(43.3 697.78) scale(1 1.04)" text-anchor="end" font-size="11.25" fill="#111">200</text>
<line x1="46" x2="49.3" y1="708.69" y2="708.69" stroke="#000" stroke-width="1.5"/>
<text transform="translate(43.3 712.59) scale(1 1.04)" text-anchor="end" font-size="11.25" fill="#111">100</text>
<line x1="46" x2="49.3" y1="723.5" y2="723.5" stroke="#000" stroke-width="1.5"/>
<text transform="translate(43.3 727.4) scale(1 1.04)" text-anchor="end" font-size="11.25" fill="#111">0</text>
<line x1="46" x2="49.3" y1="738.31" y2="738.31" stroke="#000" stroke-width="1.5"/>
<text transform="translate(43.3 742.21) scale(1 1.04)" text-anchor="end" font-size="11.25" fill="#111">−100</text>
<line x1="46" x2="49.3" y1="753.12" y2="753.12" stroke="#000" stroke-width="1.5"/>
<text transform="translate(43.3 757.02) scale(1 1.04)" text-anchor="end" font-size="11.25" fill="#111">−200</text>
<line x1="46" x2="49.3" y1="767.93" y2="767.93" stroke="#000" stroke-width="1.5"/>
<text transform="translate(43.3 771.83) scale(1 1.04)" text-anchor="end" font-size="11.25" fill="#111">−300</text>
<line x1="46" x2="49.3" y1="782.74" y2="782.74" stroke="#000" stroke-width="1.5"/>
<text transform="translate(43.3 786.64) scale(1 1.04)" text-anchor="end" font-size="11.25" fill="#111">−400</text>
<line x1="46" x2="49.3" y1="568" y2="568" stroke="#000" stroke-width="1.5"/>
<line x1="46" x2="49.3" y1="582.8" y2="582.8" stroke="#000" stroke-width="1.5"/>
<line x1="46" x2="49.3" y1="597.62" y2="597.62" stroke="#000" stroke-width="1.5"/>
<line x1="46" x2="49.3" y1="612.42" y2="612.42" stroke="#000" stroke-width="1.5"/>
<line x1="46" x2="49.3" y1="627.24" y2="627.24" stroke="#000" stroke-width="1.5"/>
<line x1="46" x2="49.3" y1="642.04" y2="642.04" stroke="#000" stroke-width="1.5"/>
<line x1="46" x2="49.3" y1="656.86" y2="656.86" stroke="#000" stroke-width="1.5"/>
<line x1="46" x2="49.3" y1="671.66" y2="671.66" stroke="#000" stroke-width="1.5"/>
<line x1="46" x2="49.3" y1="686.48" y2="686.48" stroke="#000" stroke-width="1.5"/>
<line x1="46" x2="49.3" y1="701.28" y2="701.28" stroke="#000" stroke-width="1.5"/>
<line x1="46" x2="49.3" y1="716.1" y2="716.1" stroke="#000" stroke-width="1.5"/>
<line x1="46" x2="49.3" y1="730.9" y2="730.9" stroke="#000" stroke-width="1.5"/>
<line x1="46" x2="49.3" y1="745.72" y2="745.72" stroke="#000" stroke-width="1.5"/>
<line x1="46" x2="49.3" y1="760.52" y2="760.52" stroke="#000" stroke-width="1.5"/>
<line x1="46" x2="49.3" y1="775.34" y2="775.34" stroke="#000" stroke-width="1.5"/>
<line x1="62.46" x2="62.46" y1="787.75" y2="791.15" stroke="#000" stroke-width="1.5"/>
<line x1="71.4" x2="71.4" y1="783.95" y2="791.15" stroke="#000" stroke-width="1.5"/>
<text transform="translate(69.7 800.15) scale(1 1.04)" text-anchor="middle" font-size="11.25" fill="#111">1992</text>
<line x1="80.34" x2="80.34" y1="787.75" y2="791.15" stroke="#000" stroke-width="1.5"/>
<line x1="89.28" x2="89.28" y1="787.75" y2="791.15" stroke="#000" stroke-width="1.5"/>
<line x1="98.22" x2="98.22" y1="787.75" y2="791.15" stroke="#000" stroke-width="1.5"/>
<line x1="107.16" x2="107.16" y1="783.95" y2="791.15" stroke="#000" stroke-width="1.5"/>
<text transform="translate(105.46 800.15) scale(1 1.04)" text-anchor="middle" font-size="11.25" fill="#111">1996</text>
<line x1="116.1" x2="116.1" y1="787.75" y2="791.15" stroke="#000" stroke-width="1.5"/>
<line x1="125.04" x2="125.04" y1="787.75" y2="791.15" stroke="#000" stroke-width="1.5"/>
<line x1="133.98" x2="133.98" y1="787.75" y2="791.15" stroke="#000" stroke-width="1.5"/>
<line x1="142.92" x2="142.92" y1="783.95" y2="791.15" stroke="#000" stroke-width="1.5"/>
<text transform="translate(141.22 800.15) scale(1 1.04)" text-anchor="middle" font-size="11.25" fill="#111">2000</text>
<line x1="151.86" x2="151.86" y1="787.75" y2="791.15" stroke="#000" stroke-width="1.5"/>
<line x1="160.8" x2="160.8" y1="787.75" y2="791.15" stroke="#000" stroke-width="1.5"/>
<line x1="169.74" x2="169.74" y1="787.75" y2="791.15" stroke="#000" stroke-width="1.5"/>
<line x1="178.68" x2="178.68" y1="783.95" y2="791.15" stroke="#000" stroke-width="1.5"/>
<text transform="translate(176.98 800.15) scale(1 1.04)" text-anchor="middle" font-size="11.25" fill="#111">2004</text>
<line x1="187.62" x2="187.62" y1="787.75" y2="791.15" stroke="#000" stroke-width="1.5"/>
<line x1="196.56" x2="196.56" y1="787.75" y2="791.15" stroke="#000" stroke-width="1.5"/>
<line x1="205.5" x2="205.5" y1="787.75" y2="791.15" stroke="#000" stroke-width="1.5"/>
<line x1="214.44" x2="214.44" y1="783.95" y2="791.15" stroke="#000" stroke-width="1.5"/>
<text transform="translate(212.74 800.15) scale(1 1.04)" text-anchor="middle" font-size="11.25" fill="#111">2008</text>
<line x1="223.38" x2="223.38" y1="787.75" y2="791.15" stroke="#000" stroke-width="1.5"/>
<line x1="232.32" x2="232.32" y1="787.75" y2="791.15" stroke="#000" stroke-width="1.5"/>
<line x1="241.26" x2="241.26" y1="787.75" y2="791.15" stroke="#000" stroke-width="1.5"/>
<line x1="250.2" x2="250.2" y1="783.95" y2="791.15" stroke="#000" stroke-width="1.5"/>
<text transform="translate(248.5 800.15) scale(1 1.04)" text-anchor="middle" font-size="11.25" fill="#111">2012</text>
<line x1="259.14" x2="259.14" y1="787.75" y2="791.15" stroke="#000" stroke-width="1.5"/>
<line x1="268.08" x2="268.08" y1="787.75" y2="791.15" stroke="#000" stroke-width="1.5"/>
<line x1="277.02" x2="277.02" y1="787.75" y2="791.15" stroke="#000" stroke-width="1.5"/>
<line x1="285.96" x2="285.96" y1="783.95" y2="791.15" stroke="#000" stroke-width="1.5"/>
<text transform="translate(284.26 800.15) scale(1 1.04)" text-anchor="middle" font-size="11.25" fill="#111">2016</text>
<line x1="294.9" x2="294.9" y1="787.75" y2="791.15" stroke="#000" stroke-width="1.5"/>
<line x1="303.84" x2="303.84" y1="787.75" y2="791.15" stroke="#000" stroke-width="1.5"/>
<line x1="312.78" x2="312.78" y1="787.75" y2="791.15" stroke="#000" stroke-width="1.5"/>
<line x1="321.72" x2="321.72" y1="783.95" y2="791.15" stroke="#000" stroke-width="1.5"/>
<text transform="translate(320.02 800.15) scale(1 1.04)" text-anchor="middle" font-size="11.25" fill="#111">2020</text>
<line x1="330.66" x2="330.66" y1="787.75" y2="791.15" stroke="#000" stroke-width="1.5"/>
<text transform="translate(62.1 566) scale(1 1.1)" font-size="13.45" fill="#000">Cumulative Deforestation</text>
<text transform="translate(10.1 680.55) rotate(-90) scale(1 1.06)" text-anchor="middle" font-size="13.7" textLength="251.9" lengthAdjust="spacing" fill="#000">Difference in cumulative deforestation (ha)</text>
<clipPath id="cP6"><rect x="390.2" y="555.8" width="284.6" height="232.05"/></clipPath>
<g clip-path="url(#cP6)">
<polygon points="403.78,704.2 412.7,704.2 421.62,704.2 430.54,704.2 439.46,703 448.38,701.4 457.3,696.5 466.22,692.2 475.14,690.6 484.06,690.1 492.98,695.7 501.9,700.5 510.82,700.9 519.74,702.5 528.66,702.5 537.58,700.1 546.5,698.5 555.42,698.8 564.34,699.3 573.26,700.1 582.18,694.5 591.1,692.1 600.02,644.3 608.94,641.7 617.86,640.5 626.78,639.7 635.7,629 644.62,596.2 653.54,584.8 662.46,574.1 671.38,566.9 671.38,722.7 662.46,721.8 653.54,717.7 644.62,714.6 635.7,713.8 626.78,715.4 617.86,719.2 608.94,731.4 600.02,734.4 591.1,706.2 582.18,709.3 573.26,708.2 564.34,708.2 555.42,709.8 546.5,708.2 537.58,711 528.66,709.8 519.74,708 510.82,708.2 501.9,707.4 492.98,707.4 484.06,706.5 475.14,705.5 466.22,705.5 457.3,706.3 448.38,706.7 439.46,705.7 430.54,704.6 421.62,704.5 412.7,704.5 403.78,704.5" fill="#cccccc" stroke="none"/>
<polyline points="403.78,704.2 412.7,704.2 421.62,704.2 430.54,704.2 439.46,703 448.38,701.4 457.3,696.5 466.22,692.2 475.14,690.6 484.06,690.1 492.98,695.7 501.9,700.5 510.82,700.9 519.74,702.5 528.66,702.5 537.58,700.1 546.5,698.5 555.42,698.8 564.34,699.3 573.26,700.1 582.18,694.5 591.1,692.1 600.02,644.3 608.94,641.7 617.86,640.5 626.78,639.7 635.7,629 644.62,596.2 653.54,584.8 662.46,574.1 671.38,566.9" fill="none" stroke="#999999" stroke-width="2.0" stroke-linejoin="round"/>
<polyline points="403.78,704.5 412.7,704.5 421.62,704.5 430.54,704.6 439.46,705.7 448.38,706.7 457.3,706.3 466.22,705.5 475.14,705.5 484.06,706.5 492.98,707.4 501.9,707.4 510.82,708.2 519.74,708 528.66,709.8 537.58,711 546.5,708.2 555.42,709.8 564.34,708.2 573.26,708.2 582.18,709.3 591.1,706.2 600.02,734.4 608.94,731.4 617.86,719.2 626.78,715.4 635.7,713.8 644.62,714.6 653.54,717.7 662.46,721.8 671.38,722.7" fill="none" stroke="#999999" stroke-width="2.0" stroke-linejoin="round"/>
<polyline points="403.78,704.3 412.7,704.3 421.62,704.3 430.54,704.3 439.46,704 448.38,703.5 457.3,702.5 466.22,700 475.14,697.6 484.06,700.5 492.98,702 501.9,703 510.82,703 519.74,704 528.66,705 537.58,704 546.5,703 555.42,703 564.34,702 573.26,701 582.18,694.8 591.1,692.5 600.02,691.7 608.94,689.4 617.86,680.3 626.78,682.6 635.7,690.2 644.62,698.6 653.54,695.5 662.46,690.2 671.38,690.2" fill="none" stroke="#999999" stroke-width="2.0" stroke-linejoin="round"/>
<polyline points="403.78,704.6 412.7,704.6 421.62,704.6 430.54,704.6 439.46,705 448.38,705.5 457.3,705.5 466.22,705 475.14,705 484.06,706 492.98,706.5 501.9,706.5 510.82,707 519.74,707 528.66,708 537.58,709 546.5,707 555.42,708 564.34,707 573.26,707 582.18,706 591.1,706 600.02,708 608.94,712 617.86,717 626.78,685 635.7,661.8 644.62,596.2 653.54,584.8 662.46,574.1 671.38,566.9" fill="none" stroke="#999999" stroke-width="2.0" stroke-linejoin="round"/>
<polyline points="626.78,639.7 635.7,629 644.62,626 653.54,616.8 662.46,612 671.38,608.4" fill="none" stroke="#999999" stroke-width="2.0" stroke-linejoin="round"/>
<rect x="626.78" y="556.8" width="13.38" height="231.05" fill="rgb(0,0,255)" fill-opacity="0.22"/>
<polyline points="403.78,704.3 412.7,704.3 421.62,704.3 430.54,704.3 439.46,704.3 448.38,704.3 457.3,704.3 466.22,705 475.14,708.3 484.06,708.6 492.98,708.5 501.9,708.5 510.82,709.4 519.74,699.8 528.66,698.5 537.58,700.9 546.5,702.5 555.42,704.1 564.34,705.7 573.26,708.5 582.18,701.7 591.1,704.4 600.02,712.3 608.94,713.5 617.86,720.7 626.78,725 635.7,722.7 644.62,754.3 653.54,764.2 662.46,772.6 671.38,777.2" fill="none" stroke="#000" stroke-width="2.1" stroke-linejoin="round" stroke-linecap="round"/>
<line x1="390.2" x2="672.8" y1="704.8" y2="704.8" stroke="rgb(255,20,147)" stroke-opacity="0.6" stroke-width="1.9"/>
<line x1="591.1" x2="591.1" y1="787.55" y2="555.8" stroke="#0000ff" stroke-width="2.8" stroke-dasharray="2.6 7.8"/>
<line x1="626.78" x2="626.78" y1="787.55" y2="555.8" stroke="#0000ff" stroke-width="2.8" stroke-dasharray="2.6 7.8"/>
</g>
<line x1="390.2" x2="390.2" y1="556.8" y2="787.85" stroke="#000" stroke-width="1.85"/>
<line x1="390.2" x2="672.8" y1="787.85" y2="787.85" stroke="#000" stroke-width="1.85"/>
<line x1="386.9" x2="390.2" y1="560.92" y2="560.92" stroke="#000" stroke-width="1.5"/>
<text transform="translate(384.2 564.82) scale(1 1.04)" text-anchor="end" font-size="11.25" fill="#111">1400</text>
<line x1="386.9" x2="390.2" y1="581.48" y2="581.48" stroke="#000" stroke-width="1.5"/>
<text transform="translate(384.2 585.38) scale(1 1.04)" text-anchor="end" font-size="11.25" fill="#111">1200</text>
<line x1="386.9" x2="390.2" y1="602.03" y2="602.03" stroke="#000" stroke-width="1.5"/>
<text transform="translate(384.2 605.93) scale(1 1.04)" text-anchor="end" font-size="11.25" fill="#111">1000</text>
<line x1="386.9" x2="390.2" y1="622.58" y2="622.58" stroke="#000" stroke-width="1.5"/>
<text transform="translate(384.2 626.48) scale(1 1.04)" text-anchor="end" font-size="11.25" fill="#111">800</text>
<line x1="386.9" x2="390.2" y1="643.14" y2="643.14" stroke="#000" stroke-width="1.5"/>
<text transform="translate(384.2 647.04) scale(1 1.04)" text-anchor="end" font-size="11.25" fill="#111">600</text>
<line x1="386.9" x2="390.2" y1="663.69" y2="663.69" stroke="#000" stroke-width="1.5"/>
<text transform="translate(384.2 667.59) scale(1 1.04)" text-anchor="end" font-size="11.25" fill="#111">400</text>
<line x1="386.9" x2="390.2" y1="684.25" y2="684.25" stroke="#000" stroke-width="1.5"/>
<text transform="translate(384.2 688.15) scale(1 1.04)" text-anchor="end" font-size="11.25" fill="#111">200</text>
<line x1="386.9" x2="390.2" y1="704.8" y2="704.8" stroke="#000" stroke-width="1.5"/>
<text transform="translate(384.2 708.7) scale(1 1.04)" text-anchor="end" font-size="11.25" fill="#111">0</text>
<line x1="386.9" x2="390.2" y1="725.35" y2="725.35" stroke="#000" stroke-width="1.5"/>
<text transform="translate(384.2 729.25) scale(1 1.04)" text-anchor="end" font-size="11.25" fill="#111">−200</text>
<line x1="386.9" x2="390.2" y1="745.91" y2="745.91" stroke="#000" stroke-width="1.5"/>
<text transform="translate(384.2 749.81) scale(1 1.04)" text-anchor="end" font-size="11.25" fill="#111">−400</text>
<line x1="386.9" x2="390.2" y1="766.46" y2="766.46" stroke="#000" stroke-width="1.5"/>
<text transform="translate(384.2 770.36) scale(1 1.04)" text-anchor="end" font-size="11.25" fill="#111">−600</text>
<line x1="386.9" x2="390.2" y1="787.02" y2="787.02" stroke="#000" stroke-width="1.5"/>
<text transform="translate(384.2 790.92) scale(1 1.04)" text-anchor="end" font-size="11.25" fill="#111">−800</text>
<line x1="403.78" x2="403.78" y1="787.85" y2="791.25" stroke="#000" stroke-width="1.5"/>
<line x1="412.7" x2="412.7" y1="787.85" y2="794.05" stroke="#000" stroke-width="1.5"/>
<text transform="translate(411 805.05) scale(1 1.04)" text-anchor="middle" font-size="11.25" fill="#111">1992</text>
<line x1="421.62" x2="421.62" y1="787.85" y2="791.25" stroke="#000" stroke-width="1.5"/>
<line x1="430.54" x2="430.54" y1="787.85" y2="791.25" stroke="#000" stroke-width="1.5"/>
<line x1="439.46" x2="439.46" y1="787.85" y2="791.25" stroke="#000" stroke-width="1.5"/>
<line x1="448.38" x2="448.38" y1="787.85" y2="794.05" stroke="#000" stroke-width="1.5"/>
<text transform="translate(446.68 805.05) scale(1 1.04)" text-anchor="middle" font-size="11.25" fill="#111">1996</text>
<line x1="457.3" x2="457.3" y1="787.85" y2="791.25" stroke="#000" stroke-width="1.5"/>
<line x1="466.22" x2="466.22" y1="787.85" y2="791.25" stroke="#000" stroke-width="1.5"/>
<line x1="475.14" x2="475.14" y1="787.85" y2="791.25" stroke="#000" stroke-width="1.5"/>
<line x1="484.06" x2="484.06" y1="787.85" y2="794.05" stroke="#000" stroke-width="1.5"/>
<text transform="translate(482.36 805.05) scale(1 1.04)" text-anchor="middle" font-size="11.25" fill="#111">2000</text>
<line x1="492.98" x2="492.98" y1="787.85" y2="791.25" stroke="#000" stroke-width="1.5"/>
<line x1="501.9" x2="501.9" y1="787.85" y2="791.25" stroke="#000" stroke-width="1.5"/>
<line x1="510.82" x2="510.82" y1="787.85" y2="791.25" stroke="#000" stroke-width="1.5"/>
<line x1="519.74" x2="519.74" y1="787.85" y2="794.05" stroke="#000" stroke-width="1.5"/>
<text transform="translate(518.04 805.05) scale(1 1.04)" text-anchor="middle" font-size="11.25" fill="#111">2004</text>
<line x1="528.66" x2="528.66" y1="787.85" y2="791.25" stroke="#000" stroke-width="1.5"/>
<line x1="537.58" x2="537.58" y1="787.85" y2="791.25" stroke="#000" stroke-width="1.5"/>
<line x1="546.5" x2="546.5" y1="787.85" y2="791.25" stroke="#000" stroke-width="1.5"/>
<line x1="555.42" x2="555.42" y1="787.85" y2="794.05" stroke="#000" stroke-width="1.5"/>
<text transform="translate(553.72 805.05) scale(1 1.04)" text-anchor="middle" font-size="11.25" fill="#111">2008</text>
<line x1="564.34" x2="564.34" y1="787.85" y2="791.25" stroke="#000" stroke-width="1.5"/>
<line x1="573.26" x2="573.26" y1="787.85" y2="791.25" stroke="#000" stroke-width="1.5"/>
<line x1="582.18" x2="582.18" y1="787.85" y2="791.25" stroke="#000" stroke-width="1.5"/>
<line x1="591.1" x2="591.1" y1="787.85" y2="794.05" stroke="#000" stroke-width="1.5"/>
<text transform="translate(589.4 805.05) scale(1 1.04)" text-anchor="middle" font-size="11.25" fill="#111">2012</text>
<line x1="600.02" x2="600.02" y1="787.85" y2="791.25" stroke="#000" stroke-width="1.5"/>
<line x1="608.94" x2="608.94" y1="787.85" y2="791.25" stroke="#000" stroke-width="1.5"/>
<line x1="617.86" x2="617.86" y1="787.85" y2="791.25" stroke="#000" stroke-width="1.5"/>
<line x1="626.78" x2="626.78" y1="787.85" y2="794.05" stroke="#000" stroke-width="1.5"/>
<text transform="translate(625.08 805.05) scale(1 1.04)" text-anchor="middle" font-size="11.25" fill="#111">2016</text>
<line x1="635.7" x2="635.7" y1="787.85" y2="791.25" stroke="#000" stroke-width="1.5"/>
<line x1="644.62" x2="644.62" y1="787.85" y2="791.25" stroke="#000" stroke-width="1.5"/>
<line x1="653.54" x2="653.54" y1="787.85" y2="791.25" stroke="#000" stroke-width="1.5"/>
<line x1="662.46" x2="662.46" y1="787.85" y2="794.05" stroke="#000" stroke-width="1.5"/>
<text transform="translate(660.76 805.05) scale(1 1.04)" text-anchor="middle" font-size="11.25" fill="#111">2020</text>
<line x1="671.38" x2="671.38" y1="787.85" y2="791.25" stroke="#000" stroke-width="1.5"/>
<text transform="translate(405.2 566) scale(1 1.1)" font-size="13.45" fill="#000">Cumulative Degradation</text>
<text transform="translate(352.9 671.95) rotate(-90) scale(1 1.06)" text-anchor="middle" font-size="13.7" textLength="245.1" lengthAdjust="spacing" fill="#000">Difference in cumulative degradation (ha)</text>
<text transform="translate(195.3 818.9) scale(1 1.1)" text-anchor="middle" font-size="13" fill="#000">Year</text>
<text transform="translate(537.0 818.9) scale(1 1.1)" text-anchor="middle" font-size="13" fill="#000">Year</text>
</svg>
</body></html>
